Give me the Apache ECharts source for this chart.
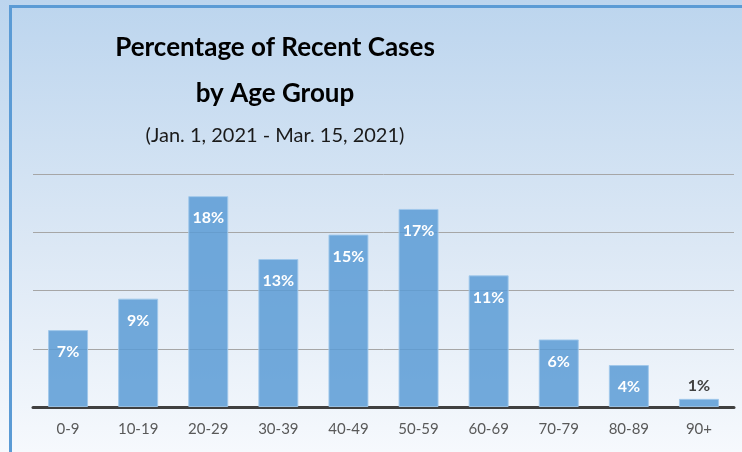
<!DOCTYPE html>
<html>
<head>
<meta charset="utf-8">
<script src="https://cdn.jsdelivr.net/npm/echarts@6/dist/echarts.min.js"></script>
<style>
  html, body { margin: 0; padding: 0; }
  #chart { width: 742px; height: 452px; }
</style>
</head>
<body>
<div id="chart"></div>
<script>
// age groups and share of recent cases (%)
var ageGroups = ['0-9', '10-19', '20-29', '30-39', '40-49', '50-59', '60-69', '70-79', '80-89', '90+'];
var caseShare = [6.6, 9.3, 18.1, 12.7, 14.8, 17.0, 11.3, 5.8, 3.6, 0.7];
var shareLabels = ['7%', '9%', '18%', '13%', '15%', '17%', '11%', '6%', '4%', '1%'];

var chart = echarts.init(document.getElementById('chart'));

var seriesData = caseShare.map(function (v, i) {
    var item = { value: v };
    // the smallest bar gets its label above, in dark text
    if (v < 2) {
        item.label = { position: 'top', color: '#404040', distance: 5 };
    }
    return item;
});

var option = {
    backgroundColor: new echarts.graphic.LinearGradient(0, 0, 0, 1, [
        { offset: 0, color: '#bcd5ee' },
        { offset: 0.55, color: '#dce8f5' },
        { offset: 1, color: '#f6f9fd' }
    ]),
    title: [{
        text: 'Percentage of Recent Cases\nby Age Group',
        left: 270,
        top: 20,
        textAlign: 'center',
        textStyle: {
            fontFamily: 'Lato',
            fontWeight: 'bold',
            fontSize: 26,
            lineHeight: 46,
            color: '#000'
        }
    }, {
        text: '(Jan. 1, 2021 - Mar. 15, 2021)',
        left: 270,
        top: 121,
        textAlign: 'center',
        textStyle: {
            fontFamily: 'Lato',
            fontWeight: 'normal',
            fontSize: 20,
            color: '#1a1a1a'
        }
    }],
    graphic: [{
        type: 'polyline',
        shape: { points: [[10.5, 452], [10.5, 6.5], [742, 6.5]] },
        style: { stroke: '#5b9bd5', lineWidth: 3, fill: null }
    }],
    grid: { left: 33, right: 8, top: 174, bottom: 45 },
    xAxis: {
        type: 'category',
        data: ageGroups,
        axisLine: { lineStyle: { color: '#404040', width: 3 } },
        axisTick: { show: false },
        axisLabel: {
            color: '#595959',
            fontFamily: 'Lato',
            fontSize: 15,
            margin: 15
        }
    },
    yAxis: {
        type: 'value',
        min: 0,
        max: 20,
        interval: 5,
        axisLabel: { show: false },
        axisLine: { show: false },
        axisTick: { show: false },
        splitLine: { lineStyle: { color: '#a6a6a6', width: 1 } }
    },
    series: [{
        type: 'bar',
        data: seriesData,
        barWidth: 40,
        itemStyle: {
            color: 'rgba(91,155,213,0.85)',
            borderColor: 'rgba(160,200,235,0.9)',
            borderWidth: 1
        },
        label: {
            show: true,
            position: 'insideTop',
            distance: 14,
            color: '#fff',
            fontFamily: 'Lato',
            fontWeight: 'bold',
            fontSize: 16,
            formatter: function (p) { return shareLabels[p.dataIndex]; }
        }
    }]
};

chart.setOption(option);
</script>
</body>
</html>
